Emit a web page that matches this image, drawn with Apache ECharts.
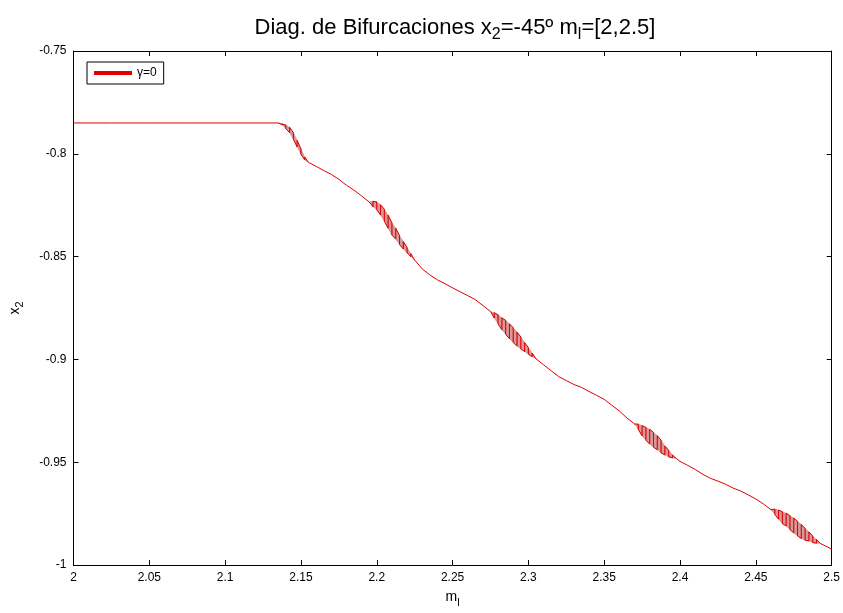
<!DOCTYPE html>
<html>
<head>
<meta charset="utf-8">
<script src="https://cdn.jsdelivr.net/npm/echarts@6/dist/echarts.min.js"></script>
<style>
html, body { margin: 0; padding: 0; background: #fff; }
#graph { width: 843px; height: 613px; }
</style>
</head>
<body>
<div id="graph"></div>
<script>
// m_l values, centre of x2 and half the spread of the period-2 bands
var mVals = [2.000, 2.025, 2.050, 2.075, 2.100, 2.125, 2.135,
    2.1375, 2.1400, 2.1425, 2.1450, 2.1475, 2.1500, 2.1525, 2.1550,
    2.160, 2.165, 2.170, 2.175, 2.180, 2.185, 2.190, 2.195,
    2.1975, 2.2000, 2.2025, 2.2050, 2.2075, 2.2100, 2.2125, 2.2150, 2.2175, 2.2200, 2.2225, 2.2250,
    2.230, 2.235, 2.240, 2.245, 2.250, 2.255, 2.260, 2.265, 2.270, 2.275,
    2.2775, 2.2800, 2.2825, 2.2850, 2.2875, 2.2900, 2.2925, 2.2950, 2.2975, 2.3000, 2.3025, 2.3050,
    2.310, 2.315, 2.320, 2.325, 2.330, 2.335, 2.340, 2.345, 2.350, 2.355, 2.360, 2.365, 2.370,
    2.3725, 2.3750, 2.3775, 2.3800, 2.3825, 2.3850, 2.3875, 2.3900, 2.3925, 2.3950, 2.3975,
    2.400, 2.405, 2.410, 2.415, 2.420, 2.425, 2.430, 2.435, 2.440, 2.445, 2.450, 2.455, 2.460,
    2.4625, 2.4650, 2.4675, 2.4700, 2.4725, 2.4750, 2.4775, 2.4800, 2.4825, 2.4850, 2.4875, 2.4900, 2.4925,
    2.495, 2.500]
var x2Mid = [-0.7850, -0.7850, -0.7850, -0.7850, -0.7850, -0.7850, -0.7850,
    -0.7855, -0.7869, -0.7884, -0.7913, -0.7951, -0.7989, -0.8023, -0.8042,
    -0.8061, -0.8081, -0.8100, -0.8124, -0.8153, -0.8177, -0.8205, -0.8234,
    -0.8244, -0.8253, -0.8273, -0.8299, -0.8330, -0.8366, -0.8388, -0.8419, -0.8445, -0.8469, -0.8493, -0.8517,
    -0.8560, -0.8589, -0.8613, -0.8632, -0.8652, -0.8671, -0.8690, -0.8709, -0.8738, -0.8767,
    -0.8786, -0.8805, -0.8827, -0.8844, -0.8863, -0.8882, -0.8901, -0.8920, -0.8940, -0.8959, -0.8978, -0.8997,
    -0.9026, -0.9055, -0.9084, -0.9103, -0.9122, -0.9136, -0.9156, -0.9175, -0.9194, -0.9223, -0.9251, -0.9285, -0.9314,
    -0.9328, -0.9347, -0.9362, -0.9376, -0.9391, -0.9405, -0.9424, -0.9443, -0.9458, -0.9472, -0.9482,
    -0.9496, -0.9515, -0.9535, -0.9559, -0.9578, -0.9592, -0.9607, -0.9626, -0.9640, -0.9659, -0.9679, -0.9703, -0.9731,
    -0.9741, -0.9755, -0.9770, -0.9779, -0.9794, -0.9808, -0.9823, -0.9837, -0.9851, -0.9861, -0.9875, -0.9885, -0.9895,
    -0.9904, -0.9923]
var x2Half = [0, 0, 0, 0, 0, 0, 0,
    0.0003, 0.0009, 0.0013, 0.0016, 0.0016, 0.0013, 0.0007, 0,
    0, 0, 0, 0, 0, 0, 0, 0,
    0.0013, 0.0019, 0.0025, 0.0029, 0.0032, 0.0030, 0.0026, 0.0022, 0.0018, 0.0013, 0.0007, 0,
    0, 0, 0, 0, 0, 0, 0, 0, 0, 0,
    0.0013, 0.0022, 0.0029, 0.0034, 0.0036, 0.0036, 0.0034, 0.0029, 0.0022, 0.0016, 0.0009, 0,
    0, 0, 0, 0, 0, 0, 0, 0, 0, 0, 0, 0, 0,
    0.0013, 0.0025, 0.0031, 0.0036, 0.0036, 0.0034, 0.0031, 0.0022, 0.0016, 0.0007, 0,
    0, 0, 0, 0, 0, 0, 0, 0, 0, 0, 0, 0, 0,
    0.0013, 0.0022, 0.0029, 0.0031, 0.0034, 0.0036, 0.0036, 0.0034, 0.0029, 0.0022, 0.0016, 0.0009, 0,
    0, 0]
var xTicks = [2, 2.5, 0.05]
var yTicks = [-1, -0.75, 0.05]

// zigzag between the two branches, like the plot of the orbit
var pts = []
var quads = []
var flip = false
for (var i = 0; i < mVals.length; i++) {
    var hi = x2Mid[i] + x2Half[i]
    var lo = x2Mid[i] - x2Half[i]
    if (x2Half[i] === 0) {
        pts.push([mVals[i], x2Mid[i]])
    } else if (flip) {
        pts.push([mVals[i], lo], [mVals[i], hi])
    } else {
        pts.push([mVals[i], hi], [mVals[i], lo])
    }
    flip = !flip
    // shaded piece between this m and the next one, inside a band
    if (i < mVals.length - 1 && (x2Half[i] > 0 || x2Half[i + 1] > 0)) {
        quads.push([mVals[i], lo, hi, mVals[i + 1],
            x2Mid[i + 1] - x2Half[i + 1], x2Mid[i + 1] + x2Half[i + 1]])
    }
}

var font = 'Liberation Sans, Arial, Helvetica, sans-serif'
var axisBase = {
    axisLine: { lineStyle: { color: '#000', width: 1 } },
    axisTick: { inside: true, length: 5, lineStyle: { color: '#000' } },
    splitLine: { show: false }
}

var chart = echarts.init(document.getElementById('graph'))
chart.setOption({
    animation: false,
    backgroundColor: '#fff',
    title: {
        text: 'Diag. de Bifurcaciones x{s|2}=-45º m{s|l}=[2,2.5]',
        left: 450,
        textAlign: 'center',
        top: 8,
        textStyle: {
            fontFamily: font,
            fontSize: 22,
            fontWeight: 'normal',
            color: '#000',
            rich: {
                s: { fontFamily: font, fontSize: 16, color: '#000', padding: [14, 0, 0, 0] }
            }
        }
    },
    legend: {
        left: 87,
        top: 62,
        orient: 'vertical',
        backgroundColor: '#fff',
        borderColor: '#000',
        borderWidth: 1,
        borderRadius: 0,
        padding: [5, 7, 5, 7],
        itemWidth: 38,
        itemHeight: 4,
        itemGap: 4,
        textStyle: { fontFamily: font, fontSize: 12, color: '#000' },
        data: [{ name: 'γ=0', icon: 'rect', itemStyle: { color: '#e00000' } }]
    },
    grid: { left: 70, right: 11, top: 51, bottom: 41, show: false },
    xAxis: [
        Object.assign({
            type: 'value',
            min: xTicks[0],
            max: xTicks[1],
            interval: xTicks[2],
            name: 'm{s|l}',
            nameLocation: 'middle',
            nameGap: 22,
            nameTextStyle: {
                fontFamily: font, fontSize: 14, color: '#000',
                rich: { s: { fontFamily: font, fontSize: 11, color: '#000', padding: [10, 0, 0, 0] } }
            },
            axisLabel: { fontFamily: font, fontSize: 12, color: '#000', margin: 7 }
        }, axisBase),
        Object.assign({
            type: 'value',
            position: 'top',
            min: xTicks[0],
            max: xTicks[1],
            interval: xTicks[2],
            axisLabel: { show: false }
        }, axisBase)
    ],
    yAxis: [
        Object.assign({
            type: 'value',
            min: yTicks[0],
            max: yTicks[1],
            interval: yTicks[2],
            name: 'x{s|2}',
            nameLocation: 'middle',
            nameGap: 48,
            nameTextStyle: {
                fontFamily: font, fontSize: 14, color: '#000',
                rich: { s: { fontFamily: font, fontSize: 11, color: '#000', padding: [10, 0, 0, 0] } }
            },
            axisLabel: { fontFamily: font, fontSize: 12, color: '#000', margin: 7 }
        }, axisBase),
        Object.assign({
            type: 'value',
            position: 'right',
            min: yTicks[0],
            max: yTicks[1],
            interval: yTicks[2],
            axisLabel: { show: false }
        }, axisBase)
    ],
    series: [
        {
            name: 'band',
            type: 'custom',
            silent: true,
            data: quads,
            encode: { x: [0, 3], y: [1, 2, 4, 5] },
            renderItem: function (params, api) {
                var a = api.coord([api.value(0), api.value(1)])
                var b = api.coord([api.value(0), api.value(2)])
                var c = api.coord([api.value(3), api.value(5)])
                var d = api.coord([api.value(3), api.value(4)])
                return {
                    type: 'polygon',
                    shape: { points: [a, b, c, d] },
                    style: { fill: 'rgba(185,70,70,0.55)', stroke: 'rgba(185,70,70,0.55)', lineWidth: 0.5 }
                }
            }
        },
        {
            name: 'γ=0',
            type: 'line',
            data: pts,
            showSymbol: false,
            symbol: 'none',
            lineStyle: { color: '#e00000', width: 1 },
            itemStyle: { color: '#e00000' }
        }
    ]
})
</script>
</body>
</html>
